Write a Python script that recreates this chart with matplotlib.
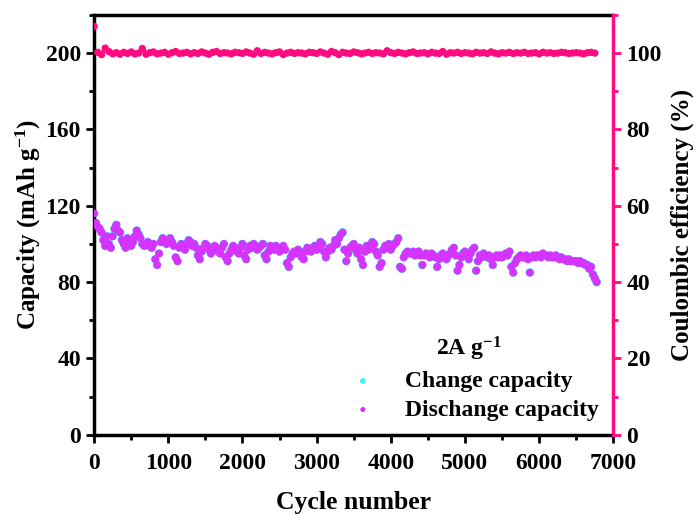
import numpy as np
import matplotlib
matplotlib.use("Agg")
import matplotlib.pyplot as plt
from matplotlib.ticker import MultipleLocator

plt.rcParams['font.family'] = ['Liberation Serif', 'DejaVu Serif']
plt.rcParams['font.weight'] = 'bold'
plt.rcParams['mathtext.fontset'] = 'custom'
plt.rcParams['mathtext.rm'] = 'Liberation Serif:bold'
plt.rcParams['mathtext.bf'] = 'Liberation Serif:bold'
plt.rcParams['mathtext.default'] = 'bf'

# cycle numbers for the capacity points (every 25 cycles)
cycles = np.arange(0, 6800, 25)

# discharge capacity (mAh g-1)
discharge = [116, 111, 109, 108, 106, 102, 99, 104, 100, 98, 104, 108, 110, 107, 106, 102, 100, 98, 103, 101,
             99, 101, 104, 107, 105, 103, 100, 99, 100, 101, 99, 98, 100, 92, 89, 95, 101, 103, 102, 100,
             102, 103, 101, 99, 93, 91, 98, 100, 99, 97, 100, 102, 101, 99, 100, 98, 94, 92, 96, 98,
             100, 99, 97, 95, 97, 99, 98, 96, 95, 98, 100, 93, 91, 95, 97, 99, 98, 96, 95, 98,
             100, 94, 92, 97, 99, 98, 100, 99, 97, 98, 99, 100, 94, 92, 96, 99, 98, 97, 99, 98,
             96, 97, 99, 97, 90, 88, 93, 95, 96, 95, 97, 96, 93, 92, 96, 98, 97, 96, 98, 99,
             97, 98, 101, 100, 96, 93, 96, 98, 97, 99, 102, 100, 103, 105, 106, 97, 91, 95, 98, 99,
             100, 97, 95, 98, 92, 89, 96, 99, 97, 99, 101, 100, 96, 94, 88, 90, 97, 99, 98, 100,
             97, 99, 100, 101, 103, 88, 87, 93, 95, 96, 95, 95, 96, 94, 95, 96, 94, 89, 94, 95,
             94, 93, 95, 94, 93, 88, 92, 94, 95, 93, 92, 94, 95, 97, 98, 94, 86, 89, 93, 95,
             96, 94, 92, 95, 97, 98, 86, 91, 94, 93, 95, 94, 93, 94, 92, 89, 93, 94, 93, 94,
             93, 94, 95, 94, 96, 88, 85, 90, 92, 93, 94, 93, 93, 94, 92, 85, 93, 94, 93, 94,
             94, 93, 95, 94, 94, 93, 94, 93, 93, 94, 93, 92, 93, 92, 92, 91, 92, 91, 91, 91,
             91, 90, 91, 90, 90, 89, 89, 87, 88, 84, 82, 80]

# charge capacity (mAh g-1): coulombic efficiency ~100 %, so it sits under the discharge points
charge = discharge

# cycle numbers for the efficiency points (every 50 cycles)
cycles_ce = np.arange(0, 6800, 50)

# coulombic efficiency (%)
efficiency = [107, 100.2, 99.6, 101.3, 100.4, 99.8, 100.1, 99.7, 100.2, 99.9,
              100.3, 99.8, 100.0, 101.2, 99.7, 100.1, 100.3, 99.8, 100.0, 100.2,
              99.7, 100.1, 100.4, 99.9, 100.0, 100.2, 99.8, 100.1, 99.9, 100.3,
              100.0, 99.7, 100.2, 100.4, 99.9, 100.1, 100.0, 99.8, 100.2, 100.1,
              99.9, 100.3, 100.0, 99.7, 100.6, 99.9, 100.2, 100.0, 99.8, 100.1,
              100.3, 99.6, 100.0, 100.2, 99.9, 100.1, 100.0, 99.8, 100.2, 100.1,
              99.9, 100.3, 100.0, 99.7, 100.4, 100.1, 99.6, 100.2, 100.0, 99.9,
              100.3, 100.1, 99.8, 100.0, 100.2, 99.9, 100.1, 100.0, 99.8, 100.6,
              100.1, 99.9, 100.2, 100.0, 99.8, 100.1, 100.3, 99.9, 100.0, 100.1,
              99.8, 100.2, 100.0, 99.9, 100.4, 99.7, 100.1, 100.0, 100.2, 99.9,
              100.1, 100.0, 99.8, 100.2, 100.0, 100.1, 99.9, 100.3, 100.0, 99.8,
              100.1, 100.0, 100.2, 99.9, 100.1, 100.0, 100.2, 99.9, 100.0, 100.1,
              99.8, 100.2, 100.0, 100.1, 99.9, 100.0, 100.2, 100.1, 99.9, 100.0,
              100.1, 100.0, 99.8, 100.1, 100.2, 100.0]

cyan = '#33f0ff'
violet = '#d633ff'
pink = '#ff0a80'

fig = plt.figure(figsize=(6.97, 5.14), dpi=100)
ax = fig.add_axes([0.135, 0.154, 0.745, 0.817])
ax2 = ax.twinx()

ax.scatter(cycles, charge, s=38, color=cyan, edgecolors='none', label='Change capacity', zorder=2)
ax.scatter(cycles, discharge, s=32, color=violet, edgecolors='none', label='Dischange capacity', zorder=3)
ax2.scatter(cycles_ce, efficiency, s=28, color=pink, edgecolors='none')
ax2.plot(cycles_ce[1:], efficiency[1:], '-', color=pink, lw=3)

ax.set_xlim(0, 7000)
ax.set_ylim(0, 220)
ax2.set_ylim(0, 110)

ax.xaxis.set_major_locator(MultipleLocator(1000))
ax.xaxis.set_minor_locator(MultipleLocator(500))
ax.yaxis.set_major_locator(MultipleLocator(40))
ax.yaxis.set_minor_locator(MultipleLocator(20))
ax2.yaxis.set_major_locator(MultipleLocator(20))
ax2.yaxis.set_minor_locator(MultipleLocator(10))

ax.tick_params(which='major', direction='out', length=6, width=2, labelsize=17)
ax.tick_params(which='minor', direction='out', length=3.5, width=2)
ax.tick_params(axis='x', which='major', pad=7)
ax2.tick_params(which='major', direction='out', length=6, width=2, color=pink, labelsize=17)
ax2.tick_params(which='minor', direction='out', length=3.5, width=2, color=pink)

for s in ['left', 'top', 'bottom']:
    ax.spines[s].set_linewidth(2.5)
ax2.spines['right'].set_color(pink)
ax2.spines['right'].set_linewidth(2.5)
ax2.spines['left'].set_visible(False)
ax2.spines['top'].set_visible(False)
ax2.spines['bottom'].set_visible(False)

ax.set_xlabel('Cycle number', fontsize=18.5, fontweight='bold', labelpad=12)
ax.set_ylabel('Capacity (mAh g$^{-1}$)', fontsize=18, fontweight='bold', labelpad=2)
ax2.set_ylabel('Coulombic efficiency (%)', fontsize=18, fontweight='bold', labelpad=6)

leg = ax.legend(loc='lower right', bbox_to_anchor=(1.0, 0.0), title='2A g$^{-1}$', frameon=False,
                fontsize=17, title_fontsize=17, markerscale=0.65,
                handletextpad=0.8, labelspacing=0.3, borderaxespad=0.2)
leg.get_title().set_fontweight('bold')

fig.savefig('out.png', dpi=100)
